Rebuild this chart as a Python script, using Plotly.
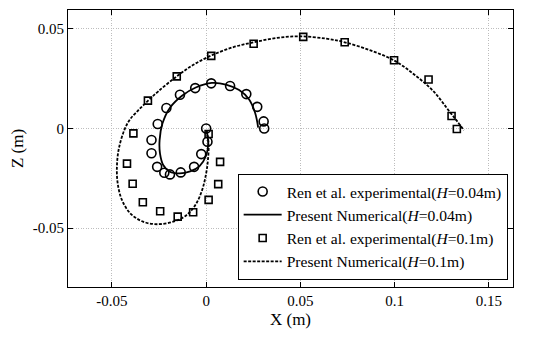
import plotly.graph_objects as go

# Experimental H=0.04m (circles)
exp04_x = [0.0, 0.0007, -0.0026, -0.0064, -0.0135, -0.0192, -0.0222, -0.026, -0.029, -0.029,
           -0.0257, -0.0211, -0.0139, -0.0058, 0.0027, 0.0127, 0.0213, 0.0271, 0.0305, 0.0308]
exp04_y = [0.0, -0.0066, -0.0128, -0.0192, -0.022, -0.023, -0.0222, -0.0192, -0.0124, -0.0057,
           0.0023, 0.0103, 0.017, 0.0203, 0.0227, 0.0214, 0.0173, 0.0109, 0.0036, 0.0]

# Numerical H=0.04m (solid)
num04_x = [0.0003, 0.0011, 0.0, -0.0035, -0.0085, -0.014, -0.0195, -0.0228, -0.0245, -0.0247,
           -0.0232, -0.0192, -0.0128, -0.0055, 0.003, 0.0105, 0.0175, 0.0228, 0.026, 0.0276]
num04_y = [-0.0015, -0.0072, -0.0135, -0.0188, -0.0215, -0.0225, -0.0215, -0.0183, -0.0125, -0.0058,
           0.0025, 0.0105, 0.0165, 0.0206, 0.0229, 0.0221, 0.0193, 0.0146, 0.0078, 0.0005]

# Experimental H=0.1m (squares)
exp10_x = [0.0013, 0.0074, 0.0064, 0.0013, -0.0069, -0.0151, -0.0244, -0.0336, -0.039, -0.042,
           -0.0386, -0.0309, -0.0156, 0.0027, 0.0252, 0.0515, 0.0735, 0.0997, 0.118, 0.1302, 0.133]
exp10_y = [-0.0027, -0.0167, -0.0279, -0.0358, -0.042, -0.0442, -0.0415, -0.037, -0.0277, -0.0176,
           -0.0024, 0.014, 0.0262, 0.0365, 0.0426, 0.046, 0.0433, 0.0343, 0.0246, 0.0063, -0.0002]

# Numerical H=0.1m (dashed)
num10_x = [0.0003, 0.0013, 0.0009, -0.0002, -0.0022, -0.0058, -0.0108, -0.017, -0.0258, -0.0335,
           -0.04, -0.0447, -0.047, -0.0473, -0.0462, -0.0433, -0.0405, -0.0364, -0.0308, -0.0254,
           -0.0156, -0.0068, 0.0028, 0.0145, 0.0252, 0.0376, 0.05, 0.0638, 0.0735, 0.0872,
           0.0997, 0.1107, 0.1208, 0.1292, 0.1334, 0.1367]
num10_y = [-0.0008, -0.008, -0.0162, -0.0235, -0.031, -0.0385, -0.0437, -0.0466, -0.048, -0.0467,
           -0.0428, -0.0358, -0.027, -0.018, -0.0095, -0.0005, 0.0045, 0.0088, 0.014, 0.0187,
           0.0262, 0.032, 0.0367, 0.0409, 0.0433, 0.0455, 0.0463, 0.0451, 0.0433, 0.0392,
           0.0342, 0.0269, 0.0185, 0.0084, 0.0034, -0.0008]

x_ticks = [-0.05, 0, 0.05, 0.1, 0.15]
x_tick_labels = ["-0.05", "0", "0.05", "0.1", "0.15"]
y_ticks = [-0.05, 0, 0.05]
y_tick_labels = ["-0.05", "0", "0.05"]

FONT = "Liberation Serif, Times New Roman, serif"

fig = go.Figure()
fig.add_trace(go.Scatter(
    x=exp04_x, y=exp04_y, mode="markers",
    name="Ren et al. experimental(<i>H</i>=0.04m)",
    marker=dict(symbol="circle-open", size=9, color="black", line=dict(width=1.6, color="black")),
))
fig.add_trace(go.Scatter(
    x=num04_x, y=num04_y, mode="lines", line_shape="spline",
    name="Present Numerical(<i>H</i>=0.04m)",
    line=dict(color="black", width=1.8),
))
fig.add_trace(go.Scatter(
    x=exp10_x, y=exp10_y, mode="markers",
    name="Ren et al. experimental(<i>H</i>=0.1m)",
    marker=dict(symbol="square-open", size=7, color="black", line=dict(width=1.6, color="black")),
))
fig.add_trace(go.Scatter(
    x=num10_x, y=num10_y, mode="lines", line_shape="spline",
    name="Present Numerical(<i>H</i>=0.1m)",
    line=dict(color="black", width=1.8, dash="3px,1.5px"),
))

axis_common = dict(
    showline=True, linecolor="black", linewidth=1.2, mirror="ticks",
    ticks="inside", ticklen=5, tickcolor="black", tickwidth=1,
    showgrid=True, gridcolor="#bdbdbd", gridwidth=1, griddash="1px,1.5px",
    zeroline=False,
    tickfont=dict(family=FONT, size=15, color="black"),
)

fig.update_xaxes(
    range=[-0.0733, 0.1628], tickvals=x_ticks, ticktext=x_tick_labels,
    title=dict(text="X (m)", font=dict(family=FONT, size=17, color="black"), standoff=5),
    **axis_common,
)
fig.update_yaxes(
    range=[-0.0795, 0.0595], tickvals=y_ticks, ticktext=y_tick_labels,
    title=dict(text="Z (m)", font=dict(family=FONT, size=17, color="black"), standoff=9),
    **axis_common,
)

fig.update_layout(
    width=542, height=330,
    margin=dict(l=60, r=37, t=2, b=51),
    paper_bgcolor="white", plot_bgcolor="white",
    showlegend=True,
    legend=dict(
        x=0.988, y=0.026, xanchor="right", yanchor="bottom",
        bgcolor="white", bordercolor="black", borderwidth=1,
        font=dict(family=FONT, size=15.6, color="black"),
        itemwidth=38, tracegroupgap=0,
    ),
    font=dict(family=FONT, color="black"),
)

fig.write_html("out.html")
